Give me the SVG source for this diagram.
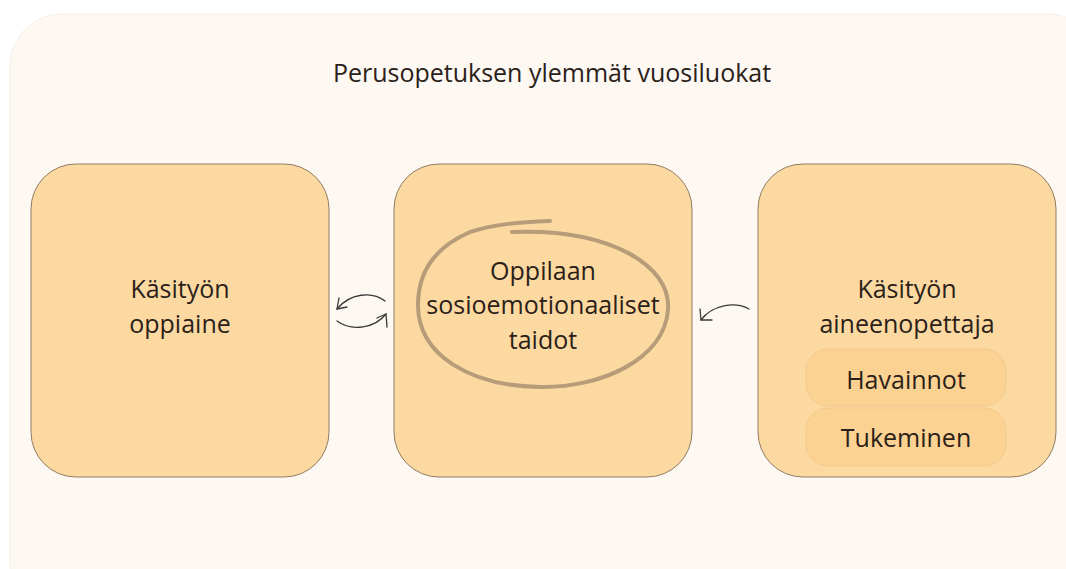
<svg xmlns="http://www.w3.org/2000/svg" width="1066" height="569" viewBox="0 0 1066 569">
<style>
.box{fill:#fdd9a2;stroke:#8f7c62;stroke-width:1}
.pill{fill:#fcd293;stroke:#f1c98c;stroke-width:1}
.t{font-family:"Open Sans","Noto Sans",sans-serif;font-size:25px;fill:#2b2119;text-anchor:middle}
.arr{fill:none;stroke:#3a3a3a;stroke-width:1.3;stroke-linecap:round;stroke-linejoin:round}
</style>
<rect width="1066" height="569" fill="#ffffff"/>
<g id="container">
<rect x="10" y="14" width="1090" height="600" rx="52" fill="#fdf8f2" stroke="#f6efe6" stroke-width="1"/>
<text class="t" x="552" y="82">Perusopetuksen ylemmät vuosiluokat</text>
</g>
<g id="node-oppiaine">
<rect class="box" x="31" y="164" width="298" height="313" rx="45"/>
<text class="t" x="180" y="298">Käsityön</text>
<text class="t" x="180" y="333">oppiaine</text>
</g>
<g id="node-taidot">
<rect class="box" x="394" y="164" width="298" height="313" rx="45"/>
<path d="M512 232 C 608 228, 672 265, 668 310 C 664 360, 600 388, 540 387 C 470 386, 418 355, 418 305 C 418 268, 440 245, 470 232 C 495 224, 520 222, 550 221" fill="none" stroke="#b69c79" stroke-width="4" stroke-linecap="round"/>
<text class="t" x="543" y="280">Oppilaan</text>
<text class="t" x="543" y="314">sosioemotionaaliset</text>
<text class="t" x="543" y="349">taidot</text>
</g>
<g id="node-opettaja">
<rect class="box" x="758" y="164" width="298" height="313" rx="45"/>
<text class="t" x="907" y="298">Käsityön</text>
<text class="t" x="907" y="333">aineenopettaja</text>
<rect class="pill" x="806" y="349" width="200" height="57" rx="22"/>
<text class="t" x="906" y="389">Havainnot</text>
<rect class="pill" x="806" y="408" width="200" height="58" rx="22"/>
<text class="t" x="906" y="447">Tukeminen</text>
</g>
<g id="connectors">
<path class="arr" d="M385 301 C 372 291, 350 293, 337 309"/>
<path class="arr" d="M337 309 L 339 298 M337 309 L 347 307"/>
<path class="arr" d="M337 321 C 352 332, 375 328, 386 314"/>
<path class="arr" d="M386 314 L 387 327 M386 314 L 377 318"/>
<path class="arr" d="M749 309 C 735 301, 712 305, 701 320"/>
<path class="arr" d="M701 320 L 700 309 M701 320 L 712 320"/>
</g>
</svg>
